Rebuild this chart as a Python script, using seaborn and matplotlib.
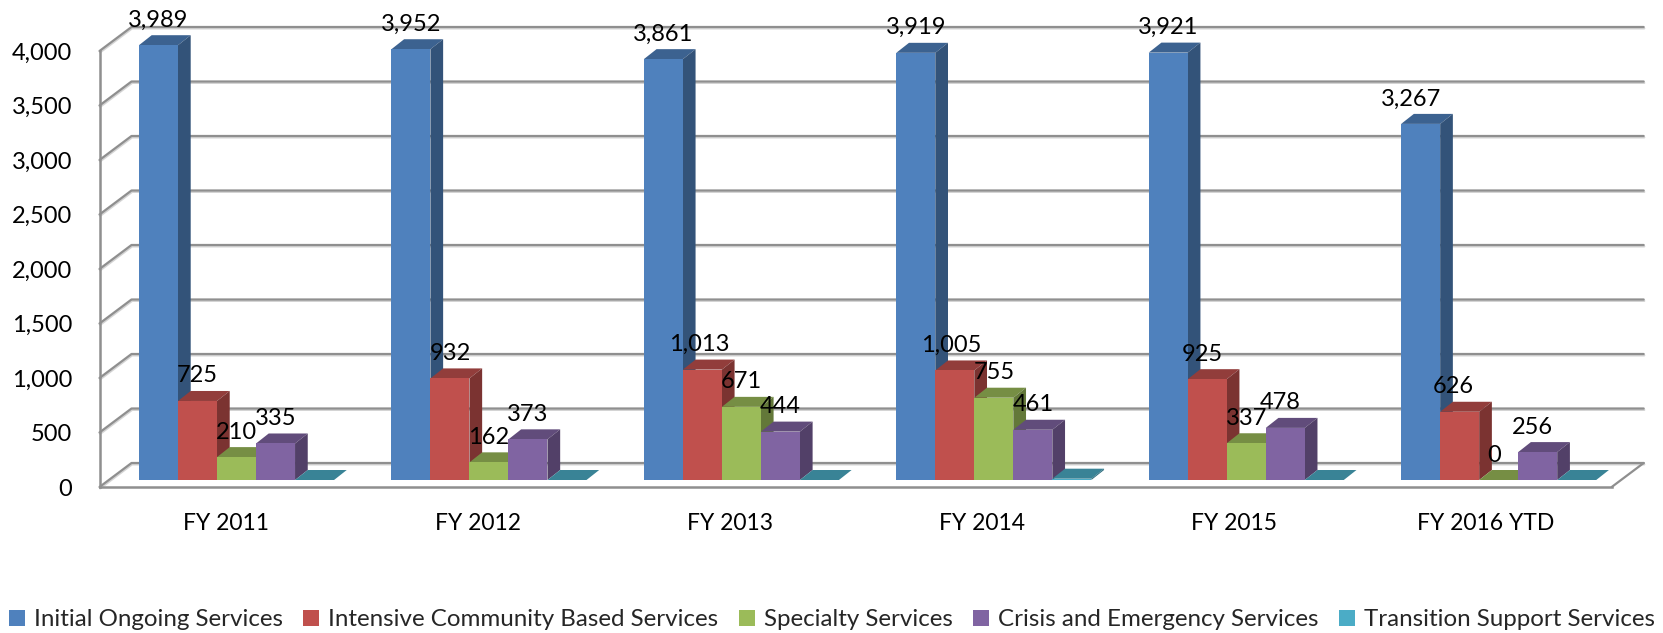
import pandas as pd
import matplotlib.pyplot as plt
import matplotlib.patheffects as pe
from matplotlib.colors import to_rgb
from matplotlib.patches import Polygon
import seaborn as sns

# Data
years = ['FY 2011', 'FY 2012', 'FY 2013', 'FY 2014', 'FY 2015', 'FY 2016 YTD']
services = ['Initial Ongoing Services', 'Intensive Community Based Services',
            'Specialty Services', 'Crisis and Emergency Services',
            'Transition Support Services']
initial = [3989, 3952, 3861, 3919, 3921, 3267]
intensive = [725, 932, 1013, 1005, 925, 626]
specialty = [210, 162, 671, 755, 337, 0]
crisis = [335, 373, 444, 461, 478, 256]
transition = [0, 0, 0, 12, 0, 0]
yticks = [0, 500, 1000, 1500, 2000, 2500, 3000, 3500, 4000]
colors = ['#4F81BD', '#C0504D', '#9BBB59', '#8064A2', '#4BACC6']

rows = []
for name, vals in zip(services, [initial, intensive, specialty, crisis, transition]):
    for y, v in zip(years, vals):
        rows.append({'year': y, 'service': name, 'value': v})
df = pd.DataFrame(rows)

sns.set_theme(style='white')
plt.rcParams['font.family'] = ['Lato', 'DejaVu Sans']

W, H = 1663, 633
fig = plt.figure(figsize=(W / 100, H / 100), dpi=100)
ax = fig.add_axes([99.5 / W, (H - 487) / H, 1512.2 / W, 436 / H])

sns.barplot(data=df, x='year', y='value', hue='service', palette=colors,
            width=0.774, gap=0, saturation=1, linewidth=0, ax=ax)
ax.set_xlim(-0.5, 5.5)
ax.set_ylim(0, 4000)

# pixel to data sizes
px_x = 6 / 1512.2
px_y = 4000 / 436
wall_dx, wall_dy = 32 * px_x, 24 * px_y
bar_dx, bar_dy = 12.7 * px_x, 10 * px_y
shift_y = 7 * px_y

GRID = '#8f8f8f'
line_fx = [pe.SimpleLineShadow(offset=(0.4, -1), shadow_color='#d4d4d4', alpha=1), pe.Normal()]

# labels that sit left of their bar centre, (series, year): pixels
label_nudge = {(0, 5): -10, (1, 5): -6, (2, 5): -5, (3, 5): -5,
               (1, 4): -5, (3, 4): -5, (1, 2): -3, (1, 3): -4}


def shade(color, f):
    return tuple(c * f for c in to_rgb(color))


# Back wall and left wall
for v in yticks:
    ax.plot([-0.5, -0.5 + wall_dx, 5.5 + wall_dx], [v, v + wall_dy, v + wall_dy],
            color=GRID, lw=1.6, clip_on=False, zorder=1, path_effects=line_fx)
ax.plot([5.5, 5.5 + wall_dx], [0, wall_dy], color=GRID, lw=1.6, clip_on=False, zorder=1)

# Move front faces back from the axis plane, add side and top
for s, bars in enumerate(ax.containers):
    for i, bar in enumerate(bars):
        val = bar.get_height()
        bar.set_x(bar.get_x() + (11 + 0.4 * i) * px_x)
        bar.set_y(shift_y)
        bar.set_clip_on(False)
        bar.set_zorder(4 + 2 * s)
        x0, x1 = bar.get_x(), bar.get_x() + bar.get_width()
        y0, y1 = shift_y, shift_y + val
        top = [(x0, y1), (x1, y1), (x1 + bar_dx, y1 + bar_dy), (x0 + bar_dx, y1 + bar_dy)]
        ax.add_patch(Polygon(top, facecolor=shade(colors[s], 0.76), edgecolor='none',
                             clip_on=False, zorder=3 + 2 * s))
        if val > 0:
            side = [(x1, y0), (x1 + bar_dx, y0 + bar_dy), (x1 + bar_dx, y1 + bar_dy), (x1, y1)]
            ax.add_patch(Polygon(side, facecolor=shade(colors[s], 0.64), edgecolor='none',
                                 clip_on=False, zorder=3 + 2 * s))
        # Value labels
        if s < 4:
            lx = (x0 + x1) / 2 + label_nudge.get((s, i), 0) * px_x
            ax.text(lx, y1 + 25 * px_y, f'{val:,.0f}', ha='center', va='center',
                    fontsize=17, color='black', zorder=30, clip_on=False)

# Axes
sns.despine(ax=ax)
for side in ['left', 'bottom']:
    ax.spines[side].set_color(GRID)
    ax.spines[side].set_linewidth(1.8)
ax.set_xlabel('')
ax.set_ylabel('')
ax.set_yticks(yticks, [f'{v:,}' for v in yticks])
ax.tick_params(axis='y', length=0, pad=19.5, labelsize=17, labelcolor='black')
ax.tick_params(axis='x', length=0, pad=18.5, labelsize=16.5, labelcolor='black')

# Legend
handles = [bars[0] for bars in ax.containers]
ax.legend(handles, services, loc='center', bbox_to_anchor=(832 / W, (H - 620) / H),
          bbox_transform=fig.transFigure, ncol=5, frameon=False, fontsize=17.4,
          handlelength=0.66, handleheight=0.66, handletextpad=0.36,
          columnspacing=0.86, borderaxespad=0, borderpad=0)

fig.savefig('out.png', dpi=100)
